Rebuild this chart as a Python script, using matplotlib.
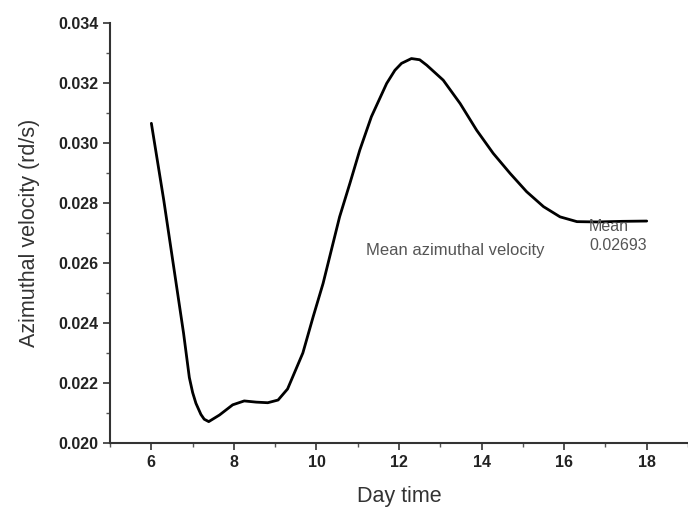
import matplotlib
matplotlib.use("Agg")
import matplotlib.pyplot as plt
from matplotlib.ticker import MultipleLocator

# ── Data ─────────────────────────────────────────────────────────────────────
day_time = [6.0, 6.3, 6.54, 6.78, 6.92, 7.0, 7.08, 7.2, 7.28, 7.39, 7.65,
            7.97, 8.25, 8.54, 8.82, 9.07, 9.3, 9.67, 9.92, 10.16, 10.36,
            10.56, 10.81, 11.05, 11.33, 11.7, 11.9, 12.06, 12.3, 12.5, 12.67,
            13.07, 13.48, 13.88, 14.28, 14.69, 15.09, 15.5, 15.9, 16.31, 16.8,
            17.4, 18.0]
velocity = [0.03066, 0.0281, 0.02588, 0.02366, 0.02218, 0.02168, 0.02132,
            0.02095, 0.02079, 0.02071, 0.02093, 0.02127, 0.0214, 0.02136,
            0.02134, 0.02143, 0.0218, 0.0230, 0.02421, 0.02532, 0.02643,
            0.02754, 0.02866, 0.02977, 0.03088, 0.03199, 0.03243, 0.03266,
            0.03282, 0.03278, 0.0326, 0.0321, 0.03132, 0.03043, 0.02966,
            0.02899, 0.02838, 0.02788, 0.02754, 0.02738, 0.02737, 0.02739,
            0.0274]

x_ticks = [6, 8, 10, 12, 14, 16, 18]
y_ticks = [0.020, 0.022, 0.024, 0.026, 0.028, 0.030, 0.032, 0.034]
mean_value = "0.02693"

plt.rcParams["font.family"] = ["Liberation Sans", "DejaVu Sans"]

fig = plt.figure(figsize=(6.88, 5.15), dpi=100)
ax = fig.add_axes([0.160, 0.140, 0.840, 0.815])

ax.plot(day_time, velocity, color="black", lw=2.0,
        solid_joinstyle="round", solid_capstyle="round")

ax.set_xlim(5, 19)
ax.set_ylim(0.020, 0.034)
ax.set_xticks(x_ticks)
ax.set_yticks(y_ticks)
ax.set_yticklabels([f"{v:.3f}" for v in y_ticks])
ax.xaxis.set_minor_locator(MultipleLocator(1))
ax.yaxis.set_minor_locator(MultipleLocator(0.001))

for s in ("top", "right"):
    ax.spines[s].set_visible(False)
for s in ("left", "bottom"):
    ax.spines[s].set_linewidth(1.5)
    ax.spines[s].set_color("#333333")

ax.tick_params(which="major", direction="out", length=5, width=1.2,
               colors="#333333", labelsize=11.5)
ax.tick_params(which="minor", direction="out", length=3, width=1.0,
               colors="#555555")
for lbl in ax.get_xticklabels() + ax.get_yticklabels():
    lbl.set_fontweight("bold")
    lbl.set_color("#222222")

ax.set_xlabel("Day time", fontsize=15.5, color="#333333", labelpad=12)
ax.set_ylabel("Azimuthal velocity (rd/s)", fontsize=15.5, color="#333333",
              labelpad=13)

ax.text(11.2, 0.02643, "Mean azimuthal velocity", fontsize=12,
        color="#555555", va="center", ha="left")
ax.text(16.6, 0.02722, "Mean", fontsize=11.5, color="#555555",
        va="center", ha="left")
ax.text(16.6, 0.02660, mean_value, fontsize=11.5, color="#555555",
        va="center", ha="left")

fig.savefig("out.png", dpi=100)
plt.close(fig)
